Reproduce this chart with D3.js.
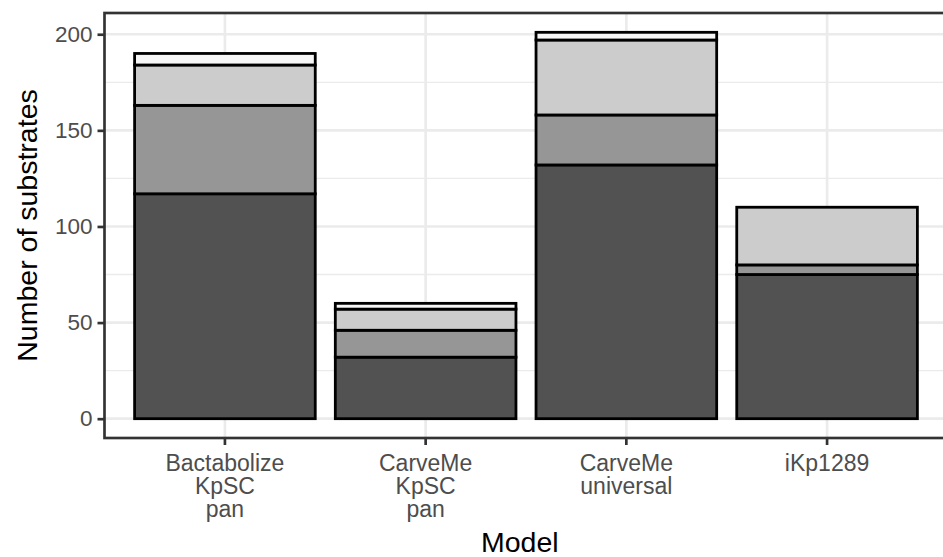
<!DOCTYPE html>
<html>
<head>
<meta charset="utf-8">
<script src="https://cdn.jsdelivr.net/npm/d3@7/dist/d3.min.js"></script>
<style>
  html, body { margin: 0; padding: 0; background: #ffffff; }
  svg { display: block; font-family: "Liberation Sans", Arial, sans-serif; }
</style>
</head>
<body>
<svg id="chart" width="943" height="557"></svg>
<script>
// Models on the x axis (multi-line labels split on "\n")
const models = ["Bactabolize\nKpSC\npan", "CarveMe\nKpSC\npan", "CarveMe\nuniversal", "iKp1289"];

// Stacked substrate counts per model, bottom to top
const seriesNames = ["s1", "s2", "s3", "s4"];
const s1 = [117, 32, 132, 75];
const s2 = [46, 14, 26, 5];
const s3 = [21, 11, 39, 30];
const s4 = [6, 3, 4, 0];
const seriesColors = ["#525252", "#969696", "#CCCCCC", "#F7F7F7"];

const yTicks = [0, 50, 100, 150, 200];
const yMinor = [25, 75, 125, 175];

const svg = d3.select("#chart");
const panel = { left: 104.5, top: 13, right: 947.5, bottom: 438 };

const rows = models.map((m, i) => ({ model: m, s1: s1[i], s2: s2[i], s3: s3[i], s4: s4[i] }));
const stacked = d3.stack().keys(seriesNames)(rows);
const maxTotal = d3.max(rows, r => r.s1 + r.s2 + r.s3 + r.s4);
const pad = maxTotal * 0.05;

const x = d3.scaleBand().domain(models).range([panel.left, panel.right])
  .paddingInner(0.1).paddingOuter(0.15);
const y = d3.scaleLinear().domain([-pad, maxTotal + pad]).range([panel.bottom, panel.top]);

// panel background + grid
const g = svg.append("g");
g.append("rect").attr("x", panel.left).attr("y", panel.top)
  .attr("width", panel.right - panel.left).attr("height", panel.bottom - panel.top)
  .attr("fill", "#ffffff");

g.selectAll("line.minor").data(yMinor).join("line")
  .attr("x1", panel.left).attr("x2", panel.right)
  .attr("y1", d => y(d)).attr("y2", d => y(d))
  .attr("stroke", "#EBEBEB").attr("stroke-width", 1.33);

g.selectAll("line.majory").data(yTicks).join("line")
  .attr("x1", panel.left).attr("x2", panel.right)
  .attr("y1", d => y(d)).attr("y2", d => y(d))
  .attr("stroke", "#EBEBEB").attr("stroke-width", 2.67);

g.selectAll("line.majorx").data(models).join("line")
  .attr("x1", d => x(d) + x.bandwidth() / 2).attr("x2", d => x(d) + x.bandwidth() / 2)
  .attr("y1", panel.top).attr("y2", panel.bottom)
  .attr("stroke", "#EBEBEB").attr("stroke-width", 2.67);

// stacked bars
svg.append("g").selectAll("g").data(stacked).join("g")
  .attr("fill", (d, i) => seriesColors[i])
  .selectAll("rect").data(d => d.filter(p => p[1] - p[0] > 0)).join("rect")
  .attr("x", d => x(d.data.model))
  .attr("width", x.bandwidth())
  .attr("y", d => y(d[1]))
  .attr("height", d => y(d[0]) - y(d[1]))
  .attr("stroke", "#000000").attr("stroke-width", 2.8);

// panel border
svg.append("rect").attr("x", panel.left).attr("y", panel.top)
  .attr("width", panel.right - panel.left).attr("height", panel.bottom - panel.top)
  .attr("fill", "none").attr("stroke", "#333333").attr("stroke-width", 2.67);

// y axis
const yAxis = svg.append("g").attr("transform", `translate(${panel.left},0)`)
  .call(d3.axisLeft(y).tickValues(yTicks).tickSize(7).tickPadding(5).tickFormat(d3.format("d")));
yAxis.select(".domain").remove();
yAxis.selectAll(".tick line").attr("stroke", "#333333").attr("stroke-width", 2.67);
yAxis.selectAll(".tick text").attr("fill", "#4D4D4D").attr("font-size", 22.5)
  .attr("font-family", "Liberation Sans, Arial, sans-serif");

// x axis
const xAxis = svg.append("g").attr("transform", `translate(0,${panel.bottom})`)
  .call(d3.axisBottom(x).tickSize(7).tickFormat(""));
xAxis.select(".domain").remove();
xAxis.selectAll(".tick line").attr("stroke", "#333333").attr("stroke-width", 2.67);

const xl = svg.append("g").selectAll("text").data(models).join("text")
  .attr("x", d => x(d) + x.bandwidth() / 2)
  .attr("y", 471)
  .attr("text-anchor", "middle")
  .attr("fill", "#4D4D4D").attr("font-size", 23);
xl.selectAll("tspan").data(d => d.split("\n")).join("tspan")
  .attr("x", function () { return d3.select(this.parentNode).attr("x"); })
  .attr("dy", (d, i) => i === 0 ? 0 : 23)
  .text(d => d);

// axis titles
svg.append("text").attr("x", (panel.left + 943) / 2 - 4).attr("y", 552)
  .attr("text-anchor", "middle").attr("font-size", 28.5).attr("fill", "#000000")
  .text("Model");

svg.append("text")
  .attr("transform", `translate(37,${(panel.top + panel.bottom) / 2}) rotate(-90)`)
  .attr("text-anchor", "middle").attr("font-size", 28.5).attr("fill", "#000000")
  .text("Number of substrates");
</script>
</body>
</html>
